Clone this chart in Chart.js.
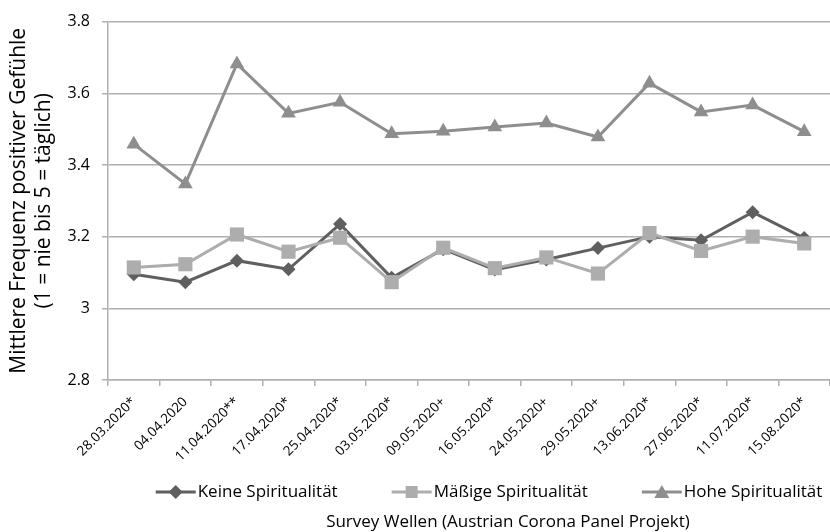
<!DOCTYPE html>
<html>
<head>
<meta charset="utf-8">
<script src="https://cdn.jsdelivr.net/npm/chart.js@4.4.1/dist/chart.umd.min.js"></script>
<style>
html, body { margin: 0; padding: 0; background: #fff; }
</style>
</head>
<body>
<canvas id="chart" width="830" height="532"></canvas>
<script>
// Survey waves (x categories)
var waves = ['28.03.2020*', '04.04.2020', '11.04.2020**', '17.04.2020*', '25.04.2020*', '03.05.2020*',
    '09.05.2020+', '16.05.2020*', '24.05.2020+', '29.05.2020+', '13.06.2020*', '27.06.2020*',
    '11.07.2020*', '15.08.2020*'];

// mean frequency of positive feelings per group
var keine   = [3.095, 3.073, 3.133, 3.109, 3.235, 3.085, 3.165, 3.108, 3.136, 3.168, 3.200, 3.190, 3.268, 3.196];
var maessig = [3.114, 3.123, 3.206, 3.158, 3.197, 3.073, 3.169, 3.112, 3.142, 3.097, 3.210, 3.160, 3.200, 3.181];
var hohe    = [3.458, 3.347, 3.682, 3.544, 3.575, 3.487, 3.494, 3.506, 3.517, 3.478, 3.628, 3.548, 3.567, 3.493];

var seriesNames = ['Keine Spiritualität', 'Mäßige Spiritualität', 'Hohe Spiritualität'];
var yMin = 2.8, yMax = 3.8, yStep = 0.2;
var yTitle = ['Mittlere Frequenz positiver Gefühle', '(1 = nie bis 5 = täglich)'];
var xTitle = 'Survey Wellen (Austrian Corona Panel Projekt)';

var colKeine = '#5f5f5f', colMaessig = '#adadad', colHohe = '#8e8e8e';
var FONT = "'Open Sans', sans-serif";

// little line + marker picture for a legend entry
function drawIcon(g, x, y, color, shape) {
    g.strokeStyle = color;
    g.lineWidth = 3;
    g.beginPath(); g.moveTo(x, y); g.lineTo(x + 40, y); g.stroke();
    g.fillStyle = color;
    g.beginPath();
    var cx = x + 20;
    if (shape === 'diamond') {
        g.moveTo(cx, y - 7); g.lineTo(cx + 7, y); g.lineTo(cx, y + 7); g.lineTo(cx - 7, y);
    } else if (shape === 'square') {
        g.rect(cx - 6, y - 6, 12, 12);
    } else {
        g.moveTo(cx, y - 7); g.lineTo(cx + 7.5, y + 6); g.lineTo(cx - 7.5, y + 6);
    }
    g.closePath();
    g.fill();
}

var legendAndTitle = {
    id: 'legendAndTitle',
    afterDraw: function(chart) {
        var ctx = chart.ctx;
        var shapes = ['diamond', 'square', 'triangle'];
        ctx.save();
        ctx.font = '17px ' + FONT;
        ctx.textBaseline = 'middle';
        ctx.textAlign = 'left';
        var gap = 54, iconW = 42;
        var widths = seriesNames.map(function(n) { return iconW + ctx.measureText(n).width; });
        var total = widths.reduce(function(a, b) { return a + b; }, 0) + gap * (widths.length - 1);
        var x = 489 - total / 2;
        chart.data.datasets.forEach(function(ds, i) {
            drawIcon(ctx, x, 492, ds.borderColor, shapes[i]);
            ctx.fillStyle = '#000';
            ctx.fillText(ds.label, x + iconW, 492);
            x += widths[i] + gap;
        });
        ctx.textAlign = 'center';
        ctx.fillText(xTitle, 508, 522);
        ctx.restore();
    }
};

function lineSet(label, data, color, style, radius, order) {
    return {
        label: label,
        data: data,
        borderColor: color,
        backgroundColor: color,
        borderWidth: 3,
        pointStyle: style,
        pointRadius: radius,
        pointHoverRadius: radius,
        pointBorderWidth: 0,
        pointBackgroundColor: color,
        tension: 0,
        clip: false,
        order: order
    };
}

new Chart(document.getElementById('chart'), {
    type: 'line',
    data: {
        labels: waves,
        datasets: [
            lineSet(seriesNames[0], keine, colKeine, 'rectRot', 7, 3),
            lineSet(seriesNames[1], maessig, colMaessig, 'rect', 10, 2),
            lineSet(seriesNames[2], hohe, colHohe, 'triangle', 8.5, 1)
        ]
    },
    options: {
        responsive: false,
        animation: false,
        devicePixelRatio: 1,
        layout: { autoPadding: false, padding: { top: 17, right: 0, bottom: 0, left: 0 } },
        plugins: {
            tooltip: { enabled: false },
            legend: { display: false }
        },
        scales: {
            x: {
                offset: true,
                afterFit: function(scale) {
                    scale.height = 152;
                    scale.paddingRight = 0;
                    scale.paddingLeft = 0;
                },
                grid: { display: true, drawOnChartArea: false, offset: true, color: '#b0b0b0', tickLength: 6, lineWidth: 1.5 },
                border: { color: '#b0b0b0', width: 1.5 },
                ticks: {
                    color: '#000',
                    font: { family: FONT, size: 13.5 },
                    minRotation: 45,
                    maxRotation: 45,
                    autoSkip: false,
                    padding: 8
                }
            },
            y: {
                min: yMin,
                max: yMax,
                afterFit: function(scale) { scale.width = 108; },
                grid: { color: '#b0b0b0', lineWidth: 1.5, tickLength: 6 },
                border: { color: '#b0b0b0', width: 1.5 },
                ticks: {
                    stepSize: yStep,
                    color: '#000',
                    font: { family: FONT, size: 16 },
                    padding: 12,
                    callback: function(v) { return String(Number(v.toFixed(1))); }
                },
                title: {
                    display: true,
                    text: yTitle,
                    color: '#000',
                    font: { family: FONT, size: 21, lineHeight: 1.2 },
                    padding: { top: 6, bottom: 0 }
                }
            }
        }
    },
    plugins: [legendAndTitle]
});
</script>
</body>
</html>
